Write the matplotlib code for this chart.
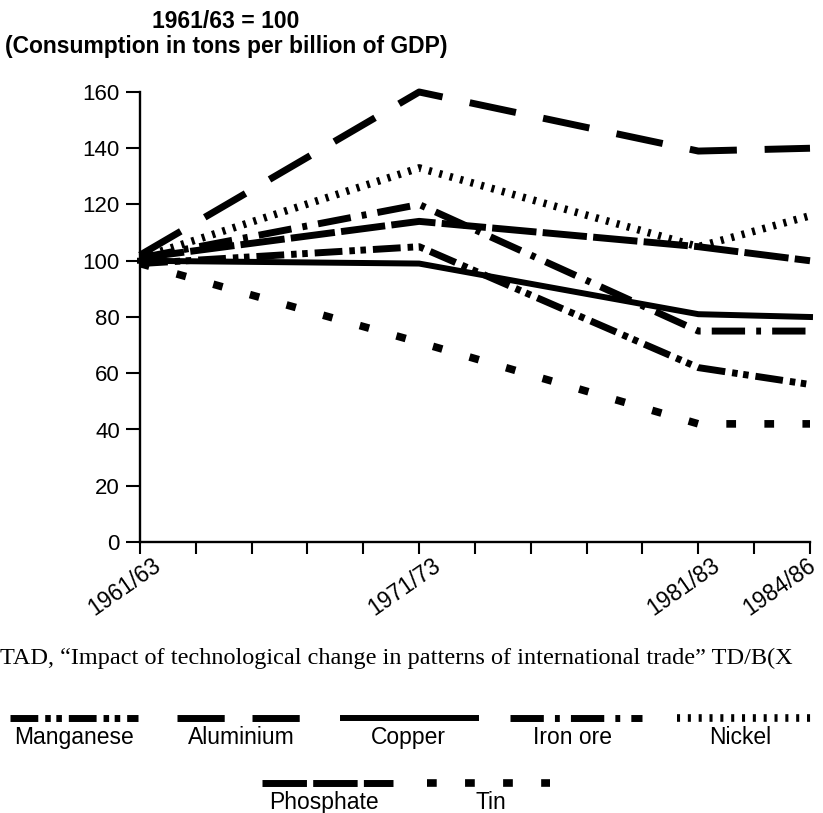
import matplotlib
matplotlib.use("Agg")
import matplotlib.pyplot as plt
import matplotlib.transforms as mtransforms

# ===============================
# Data (index, 1961/63 = 100)
# ===============================
periods = ["1961/63", "1971/73", "1981/83", "1984/86"]
period_x = [1962, 1972, 1982, 1986]

manganese = [99, 105, 62, 56]
aluminium = [102, 160, 139, 140]
copper = [100, 99, 81, 80]
iron_ore = [101, 120, 75, 75]
nickel = [101, 133, 105, 116]
phosphate = [101, 114, 105, 100]
tin = [99, 71, 42, 42]

names = ["Manganese", "Aluminium", "Copper", "Iron ore", "Nickel", "Phosphate", "Tin"]
series = [manganese, aluminium, copper, iron_ore, nickel, phosphate, tin]

# ===============================
# Styles (dash lengths in points)
# ===============================
plt.rcParams["font.family"] = ["Liberation Sans", "DejaVu Sans"]
plt.rcParams["lines.scale_dashes"] = False

styles = {
    "Manganese": dict(lw=5.0, dashes=(20, 5, 4, 4, 4, 5)),
    "Aluminium": dict(lw=5.0, dashes=(34, 20)),
    "Copper": dict(lw=4.3, dashes=None),
    "Iron ore": dict(lw=5.0, dashes=(24, 8, 3.5, 8)),
    "Nickel": dict(lw=5.5, dashes=(2.2, 5.6)),
    "Phosphate": dict(lw=5.0, dashes=(32, 4.5)),
    "Tin": dict(lw=5.5, dashes=(7, 20.4)),
}


def draw(ax, x, y, name):
    st = styles[name]
    line, = ax.plot(x, y, color="black", lw=st["lw"], solid_joinstyle="round",
                    clip_on=False)
    if st["dashes"] is not None:
        line.set_dashes(st["dashes"])
    return line


W, H = 823, 813
fig = plt.figure(figsize=(W / 100, H / 100), dpi=100)
ax = fig.add_axes([140 / W, 1 - 542 / H, 670 / W, 450 / H])

for name, vals in zip(names, series):
    draw(ax, period_x, vals, name)

ax.set_xlim(1962, 1986)
ax.set_ylim(0, 160)
ax.set_yticks(range(0, 161, 20))
ax.set_xticks(range(1962, 1987, 2))
ax.set_xticklabels([periods[period_x.index(t)] if t in period_x else "" for t in range(1962, 1987, 2)])

for s in ["top", "right"]:
    ax.spines[s].set_visible(False)
for s in ["left", "bottom"]:
    ax.spines[s].set_linewidth(1.7)

ax.tick_params(axis="y", direction="out", length=10, width=1.5, labelsize=16, pad=4.5)
ax.tick_params(axis="x", direction="out", length=8.5, width=1.5, labelsize=16.5, pad=0)

for lab in ax.get_xticklabels():
    dx = 12 if lab.get_text() != "1984/86" else -3
    offset = mtransforms.ScaledTranslation(dx / 100, 0, fig.dpi_scale_trans)
    lab.set_rotation(35)
    lab.set_ha("right")
    lab.set_va("top")
    lab.set_rotation_mode("anchor")
    lab.set_transform(lab.get_transform() + offset)

# ===============================
# Titles and source
# ===============================
fig.text(226 / W, 1 - 21 / H, "1961/63 = 100", ha="center", va="center",
         fontsize=16.5, fontweight="bold")
fig.text(226 / W, 1 - 47 / H, "(Consumption in tons per billion of GDP)",
         ha="center", va="center", fontsize=16.5, fontweight="bold")
fig.text(0, 1 - 658 / H,
         "TAD, \u201cImpact of technological change in patterns of international trade\u201d TD/B(X",
         ha="left", va="center", fontsize=17.5, family=["Liberation Serif", "DejaVu Serif"])

# ===============================
# Legend (drawn by hand, label under sample)
# ===============================
leg = fig.add_axes([0, 0, 1, 1])
leg.set_xlim(0, W)
leg.set_ylim(H, 0)
leg.axis("off")

legend_spots = {
    "Manganese": (10, 138, 718, 74),
    "Aluminium": (177, 300, 718, 241),
    "Copper": (343, 476, 718, 408),
    "Iron ore": (510, 642, 718, 573),
    "Nickel": (677, 815, 718, 740),
    "Phosphate": (262, 393, 783, 324),
    "Tin": (427, 550, 783, 491),
}
for name in names:
    x0, x1, yl, xt = legend_spots[name]
    draw(leg, [x0, x1], [yl, yl], name)
    leg.text(xt, yl + 19, name, ha="center", va="center", fontsize=16.5)

fig.savefig("out.png", dpi=100)
